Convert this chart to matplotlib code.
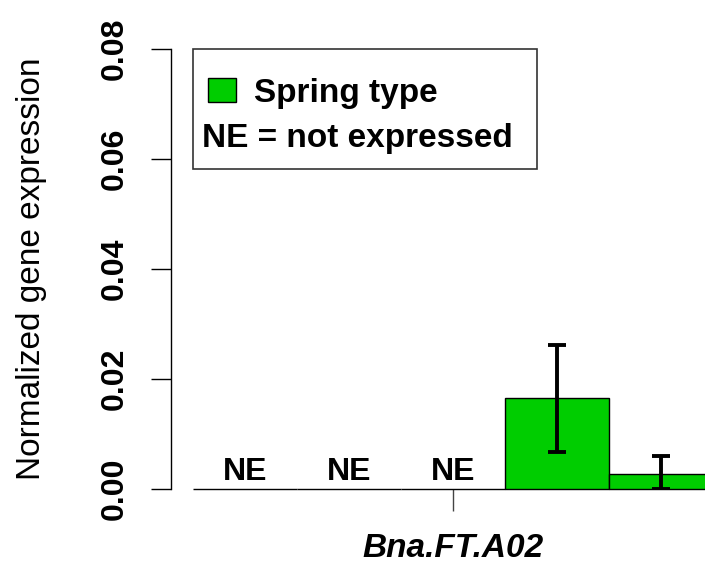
import matplotlib
matplotlib.use("Agg")
import matplotlib.pyplot as plt
from matplotlib.patches import Rectangle

plt.rcParams['font.family'] = ['Liberation Sans', 'DejaVu Sans']

# ---- data ----
gene = "Bna.FT.A02"
values = [0.0, 0.0, 0.0, 0.0165, 0.0027]
errors = [0.0, 0.0, 0.0, 0.0097, 0.0033]
expressed = [False, False, False, True, True]
yticks = [0.00, 0.02, 0.04, 0.06, 0.08]
ytick_labels = ["0.00", "0.02", "0.04", "0.06", "0.08"]
legend_label = "Spring type"
ne_note = "NE = not expressed"
ylabel = "Normalized gene expression"

GREEN = "#00CD00"
W, H = 705, 563
fig = plt.figure(figsize=(W / 100, H / 100), dpi=100)

# axes placed in pixel units: y axis at x=171, 0 at y=489, 0.08 at y=49
left_px, right_px, bot_px, top_px = 171, 720, 489, 49
ax = fig.add_axes([left_px / W, (H - bot_px) / H,
                   (right_px - left_px) / W, (bot_px - top_px) / H])
bar_w_px, first_center_px = 104, 245
ax.set_xlim((left_px - first_center_px) / bar_w_px,
            (right_px - first_center_px) / bar_w_px)
ax.set_ylim(0, 0.08)

x = list(range(len(values)))
lower = [min(e, v) for e, v in zip(errors, values)]
ax.bar(x, values, width=1.0, color=GREEN, edgecolor="black",
       linewidth=1.0, clip_on=False, zorder=2)
ex = [xi for xi, f in zip(x, expressed) if f]
ev = [v for v, f in zip(values, expressed) if f]
el = [l for l, f in zip(lower, expressed) if f]
eu = [e for e, f in zip(errors, expressed) if f]
ax.errorbar(ex, ev, yerr=[el, eu], fmt="none", ecolor="black",
            elinewidth=2.8, capsize=6.5, capthick=2.8, zorder=3)

for xi, f in zip(x, expressed):
    if not f:
        ax.annotate("NE", (xi, 0), xytext=(0, 6.5), textcoords="offset points",
                    ha="center", va="baseline", fontsize=23, fontweight="bold")

for s in ["top", "right", "bottom"]:
    ax.spines[s].set_visible(False)
ax.spines["left"].set_linewidth(1.0)

ax.set_yticks(yticks)
ax.set_yticklabels(ytick_labels, rotation=90, va="center",
                   fontsize=23, fontweight="bold")
ax.tick_params(axis="y", direction="out", length=14.5, width=1.0, pad=15)
ax.set_xticks([(len(values) - 1) / 2])
ax.set_xticklabels([gene], fontsize=24, fontweight="bold", fontstyle="italic")
ax.tick_params(axis="x", direction="out", length=15.5, width=1.0,
               color="#444444", pad=16.5)

fig.text(32 / W, 1 - 269 / H, ylabel, rotation=90, ha="center", va="center",
         fontsize=24)

# legend box
fig.patches.append(Rectangle((193 / W, (H - 169) / H), (537 - 193) / W, 120 / H,
                             transform=fig.transFigure, facecolor="white",
                             edgecolor="#333333", linewidth=1.2, zorder=5))
fig.patches.append(Rectangle((208 / W, (H - 102) / H), 28 / W, 24 / H,
                             transform=fig.transFigure, facecolor=GREEN,
                             edgecolor="black", linewidth=1.0, zorder=6))
fig.text(254 / W, (H - 102) / H, legend_label, ha="left", va="baseline",
         fontsize=24, fontweight="bold", zorder=7)
fig.text(202 / W, (H - 147) / H, ne_note, ha="left", va="baseline",
         fontsize=24, fontweight="bold", zorder=7)

fig.savefig("out.png", dpi=100)
